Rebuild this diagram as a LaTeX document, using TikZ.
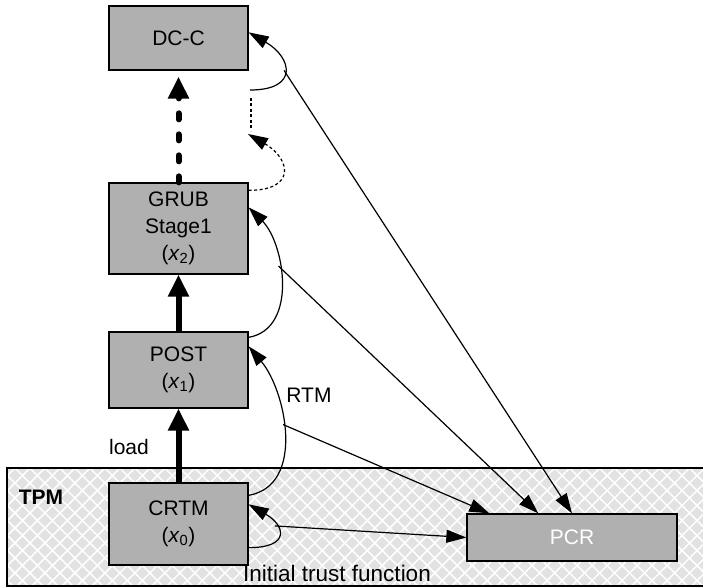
\documentclass[tikz,border=0pt]{standalone}
\usepackage{fontspec}
\setmainfont{Liberation Sans}
\usepackage{xcolor}
\usepackage{tikz}
\usetikzlibrary{arrows.meta, patterns.meta}
\definecolor{boxgray}{RGB}{176,176,176}
\definecolor{tpmgray}{RGB}{226,226,226}
\def\boxW{139pt}
\def\lw{1.3pt}
\def\tipThin{Triangle[length=20pt,width=13pt]}

\begin{document}
\begin{tikzpicture}[
    x=1pt, y=1pt,
    font=\fontsize{21}{27}\selectfont,
    box/.style={draw, fill=boxgray, line width=\lw, minimum width=\boxW, align=center, inner sep=0pt},
    loadarrow/.style={line width=6pt, -{Triangle[length=22pt,width=20pt]}},
    meas/.style={line width=1.2pt, -{\tipThin}},
    dots/.style={line width=1.2pt, dash pattern=on 3pt off 2.5pt},
    tpmarea/.style={preaction={fill=tpmgray},
        preaction={pattern={Lines[angle=45,distance=10.6pt,line width=1.5pt]}, pattern color=white},
        preaction={pattern={Lines[angle=-45,distance=10.6pt,line width=1.5pt]}, pattern color=white},
        draw, line width=\lw}
]
\useasboundingbox (0,0) rectangle (703,-588);

% TPM area
\path[tpmarea] (7,-468) rectangle (712,-586);

\node[box, minimum height=64pt] (dcc) at (178.5,-38) {DC-C};
\node[box, minimum height=91pt] (grub) at (178.5,-228.5) {GRUB\\Stage1\\(\textit{x}\textsubscript{2})};
\node[box, minimum height=76pt] (post) at (178.5,-370) {POST\\(\textit{x}\textsubscript{1})};
\node[box, minimum height=82pt] (crtm) at (178.5,-524) {CRTM\\(\textit{x}\textsubscript{0})};
\node[box, minimum width=210pt, minimum height=47pt, text=white] (pcr) at (572,-537.5) {PCR};

% load chain
\draw[loadarrow] (crtm) -- (post);
\draw[loadarrow] (post) -- (grub);
\draw[loadarrow, dash pattern=on 6pt off 15pt, line cap=round, shorten >=6pt] (grub) -- (dcc);

% measurements
\draw[meas] ([yshift=-13pt]crtm.north east) to[out=10,in=-50] coordinate[pos=0.55] (rtm) ([yshift=-15pt]post.north east);
\draw[meas] ([yshift=-6pt]post.north east) to[out=10,in=-45] coordinate[pos=0.6] (grubm) ([yshift=-25pt]grub.north east);
\coordinate (dccfrom) at (250,-90);
\draw[meas] (dccfrom) to[out=0,in=-30,looseness=2.2] coordinate[pos=0.5] (dccm) ([yshift=-27pt]dcc.north east);
\draw[meas] ([yshift=18pt]crtm.south east) to[out=0,in=-30,looseness=2.5] coordinate[pos=0.65] (selfm) ([yshift=-22pt]crtm.north east);

% more stages
\coordinate (dottop) at (251,-98);
\coordinate (dotlow) at (251,-131);
\coordinate (dotend) at (248,-134);
\draw[dots] (dottop) -- (dotlow);
\draw[dots, -{\tipThin}] ([yshift=-8pt]grub.north east) to[out=0,in=-30,looseness=2.2] (dotend);

% extend PCR
\draw[meas] (selfm) -- (pcr.west);
\draw[meas] (rtm) -- ([xshift=23pt]pcr.north west);
\draw[meas] (grubm) -- ([xshift=72pt]pcr.north west);
\draw[meas] (dccm) -- (pcr.north);

\node (loadlbl) at (129,-447) {load};
\node (rtmlbl) at (309,-395) {RTM};
\node[font=\fontsize{21}{25}\selectfont\bfseries] (tpmlbl) at (41,-497) {TPM};
\node[font=\fontsize{22.5}{27}\selectfont] (initlbl) at (337,-573) {Initial trust function};
\end{tikzpicture}
\end{document}
